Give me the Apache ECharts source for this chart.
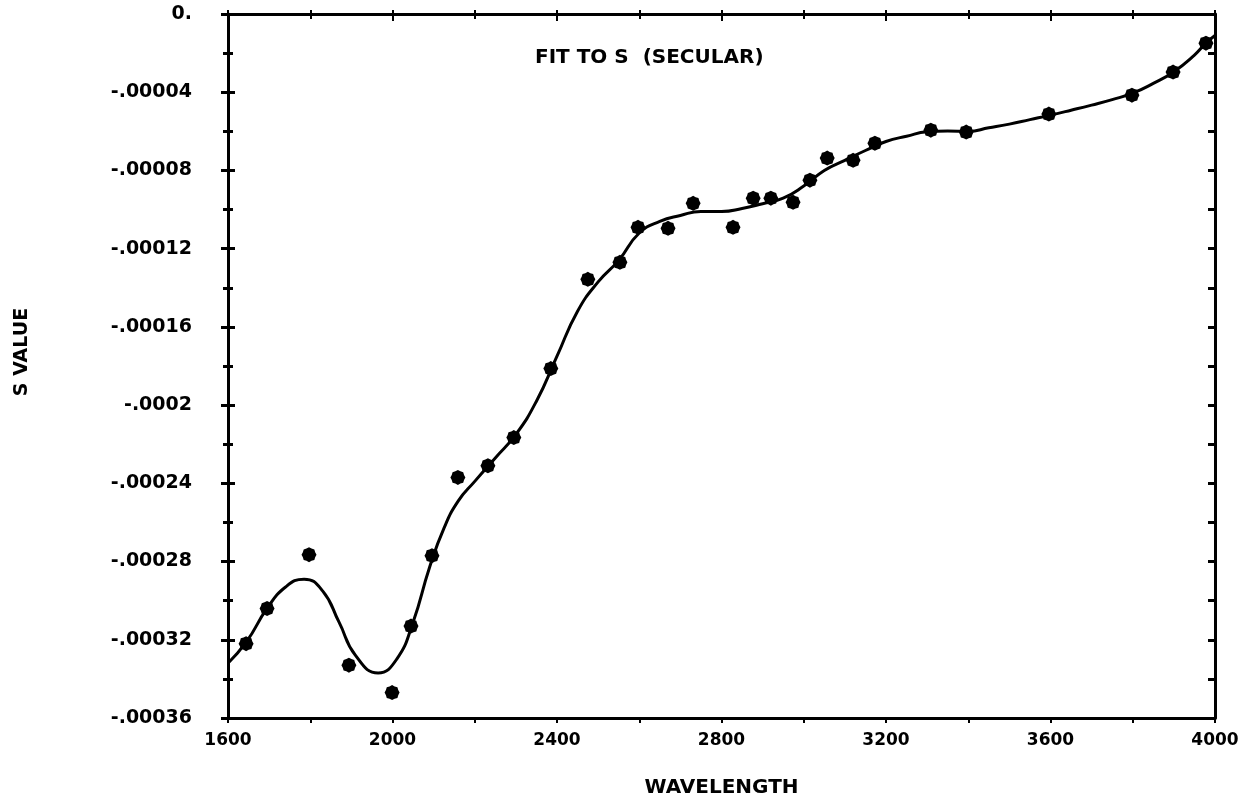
<!DOCTYPE html>
<html>
<head>
<meta charset="utf-8">
<script src="https://cdn.jsdelivr.net/npm/echarts@6/dist/echarts.min.js"></script>
<style>
html,body{margin:0;padding:0;background:#fff;}
#chart{width:1260px;height:808px;}
</style>
</head>
<body>
<div id="chart"></div>
<script>
// Observed data points (wavelength, S value)
const obsWavelength = [1644,1695,1797,1894,1999,2045,2096,2159,2232,2295,2385,2475,2553,2597,2670,2731,2828,2877,2920,2974,3015,3057,3120,3173,3309,3395,3596,3798,3898,3978];
const obsS = [-0.000322,-0.000304,-0.0002765,-0.000333,-0.000347,-0.000313,-0.000277,-0.000237,-0.000231,-0.0002166,-0.0001813,-0.0001357,-0.000127,-0.0001091,-0.0001096,-0.0000968,-0.0001091,-0.0000942,-0.0000942,-0.0000963,-0.000085,-0.0000737,-0.0000748,-0.0000661,-0.0000594,-0.0000604,-0.0000512,-0.0000415,-0.0000297,-0.0000149];

// Fitted curve
const fitWavelength = [1600,1645,1695,1740,1785,1830,1870,1910,1965,2010,2050,2090,2125,2160,2200,2250,2300,2350,2400,2450,2500,2550,2600,2650,2700,2750,2800,2850,2900,2950,3000,3050,3100,3150,3200,3250,3300,3350,3400,3450,3500,3550,3600,3650,3700,3750,3800,3850,3900,3950,3978,4000];
const fitS = [-0.000332,-0.000321,-0.000304,-0.000293,-0.000289,-0.000295,-0.000311,-0.000328,-0.000337,-0.00033,-0.000311,-0.000283,-0.000263,-0.000249,-0.000239,-0.000227,-0.000215,-0.000198,-0.000175,-0.000152,-0.000137,-0.000126,-0.000112,-0.000106,-0.000103,-0.000101,-0.000101,-0.0000995,-0.000097,-0.0000942,-0.000088,-0.00008,-0.0000748,-0.0000698,-0.0000652,-0.0000625,-0.0000602,-0.0000598,-0.00006,-0.0000582,-0.0000563,-0.000054,-0.0000517,-0.0000492,-0.0000466,-0.0000438,-0.0000405,-0.0000355,-0.0000295,-0.000021,-0.0000149,-0.000011];

// Tick labels
const xTickValues = [1600,2000,2400,2800,3200,3600,4000];
const xTickLabels = ['1600','2000','2400','2800','3200','3600','4000'];
const yTickValues = [0,-0.00004,-0.00008,-0.00012,-0.00016,-0.0002,-0.00024,-0.00028,-0.00032,-0.00036];
const yTickLabels = ['0.','-.00004','-.00008','-.00012','-.00016','-.0002','-.00024','-.00028','-.00032','-.00036'];

const titleText = 'FIT TO S  (SECULAR)';
const xName = 'WAVELENGTH';
const yName = 'S VALUE';

function nearestLabel(vals, labels, v) {
  let best = 0, bd = Infinity;
  for (let i = 0; i < vals.length; i++) {
    const d = Math.abs(vals[i] - v);
    if (d < bd) { bd = d; best = i; }
  }
  return labels[best];
}

const FONT = 'DejaVu Sans';
const starPath = 'path://M0,-10 L3.4,-8.2 L7.1,-7.1 L8.2,-3.4 L10,0 L8.2,3.4 L7.1,7.1 L3.4,8.2 L0,10 L-3.4,8.2 L-7.1,7.1 L-8.2,3.4 L-10,0 L-8.2,-3.4 L-7.1,-7.1 L-3.4,-8.2 Z';

const chart = echarts.init(document.getElementById('chart'), null, {renderer: 'canvas'});
const lineStyleAxis = {color: '#000', width: 3};
chart.setOption({
  backgroundColor: '#fff',
  animation: false,
  title: {
    text: titleText,
    left: 530, top: 43,
    textStyle: {fontFamily: FONT, fontWeight: 'bold', fontSize: 20, color: '#000'}
  },
  graphic: [{
    type: 'text',
    x: 22, y: 352,
    rotation: Math.PI / 2,
    style: {
      text: yName, fill: '#000',
      font: 'bold 19px "DejaVu Sans"',
      align: 'center', verticalAlign: 'middle'
    }
  }],
  grid: {left: 228, right: 45, top: 14, bottom: 90, containLabel: false},
  xAxis: [
    {
      type: 'value', min: 1600, max: 4000, interval: 400, position: 'bottom',
      axisLine: {show: true, onZero: false, lineStyle: lineStyleAxis},
      axisTick: {show: true, length: 5, lineStyle: {color: '#000', width: 2}},
      minorTick: {show: true, splitNumber: 2, length: 5, lineStyle: {color: '#000', width: 2}},
      splitLine: {show: false},
      axisLabel: {
        margin: 14, color: '#000', fontFamily: FONT, fontWeight: 'bold', fontSize: 17,
        formatter: v => nearestLabel(xTickValues, xTickLabels, v)
      },
      name: xName, nameLocation: 'middle', nameGap: 60,
      nameTextStyle: {color: '#000', fontFamily: FONT, fontWeight: 'bold', fontSize: 20}
    },
    {
      type: 'value', min: 1600, max: 4000, interval: 400, position: 'top',
      axisLine: {show: true, onZero: false, lineStyle: lineStyleAxis},
      axisTick: {show: true, inside: true, length: 7, lineStyle: {color: '#000', width: 2}},
      minorTick: {show: true, splitNumber: 2, length: 5, lineStyle: {color: '#000', width: 2}},
      splitLine: {show: false},
      axisLabel: {show: false}
    },
    {
      type: 'value', min: 1600, max: 4000, interval: 400, position: 'bottom',
      axisLine: {show: false},
      axisTick: {show: true, inside: true, length: 4, lineStyle: {color: '#000', width: 2}},
      minorTick: {show: true, splitNumber: 2, length: 4, lineStyle: {color: '#000', width: 2}},
      splitLine: {show: false},
      axisLabel: {show: false}
    }
  ],
  yAxis: [
    {
      type: 'value', min: -0.00036, max: 0, interval: 0.00004, position: 'left',
      axisLine: {show: true, onZero: false, lineStyle: lineStyleAxis},
      axisTick: {show: true, length: 7, lineStyle: {color: '#000', width: 3}},
      minorTick: {show: true, splitNumber: 2, length: 5, lineStyle: {color: '#000', width: 3}},
      splitLine: {show: false},
      axisLabel: {
        margin: 36, color: '#000', fontFamily: FONT, fontWeight: 'bold', fontSize: 19,
        formatter: v => nearestLabel(yTickValues, yTickLabels, v)
      }
    },
    {
      type: 'value', min: -0.00036, max: 0, interval: 0.00004, position: 'left',
      axisLine: {show: false},
      axisTick: {show: true, inside: true, length: 7, lineStyle: {color: '#000', width: 3}},
      minorTick: {show: true, splitNumber: 2, length: 5, lineStyle: {color: '#000', width: 3}},
      splitLine: {show: false},
      axisLabel: {show: false}
    },
    {
      type: 'value', min: -0.00036, max: 0, interval: 0.00004, position: 'right',
      axisLine: {show: true, onZero: false, lineStyle: lineStyleAxis},
      axisTick: {show: true, inside: true, length: 7, lineStyle: {color: '#000', width: 3}},
      minorTick: {show: true, splitNumber: 2, length: 7, lineStyle: {color: '#000', width: 3}},
      splitLine: {show: false},
      axisLabel: {show: false}
    }
  ],
  series: [
    {
      type: 'line', name: 'fit',
      xAxisIndex: 0, yAxisIndex: 0,
      data: fitWavelength.map((x, i) => [x, fitS[i]]),
      smooth: 0.5, showSymbol: false, symbol: 'none',
      lineStyle: {color: '#000', width: 3},
      z: 3
    },
    {
      type: 'scatter', name: 'observed',
      xAxisIndex: 0, yAxisIndex: 0,
      data: obsWavelength.map((x, i) => [x, obsS[i]]),
      symbol: starPath, symbolSize: 15,
      itemStyle: {color: '#000', opacity: 1},
      z: 4
    }
  ]
});
</script>
</body>
</html>
